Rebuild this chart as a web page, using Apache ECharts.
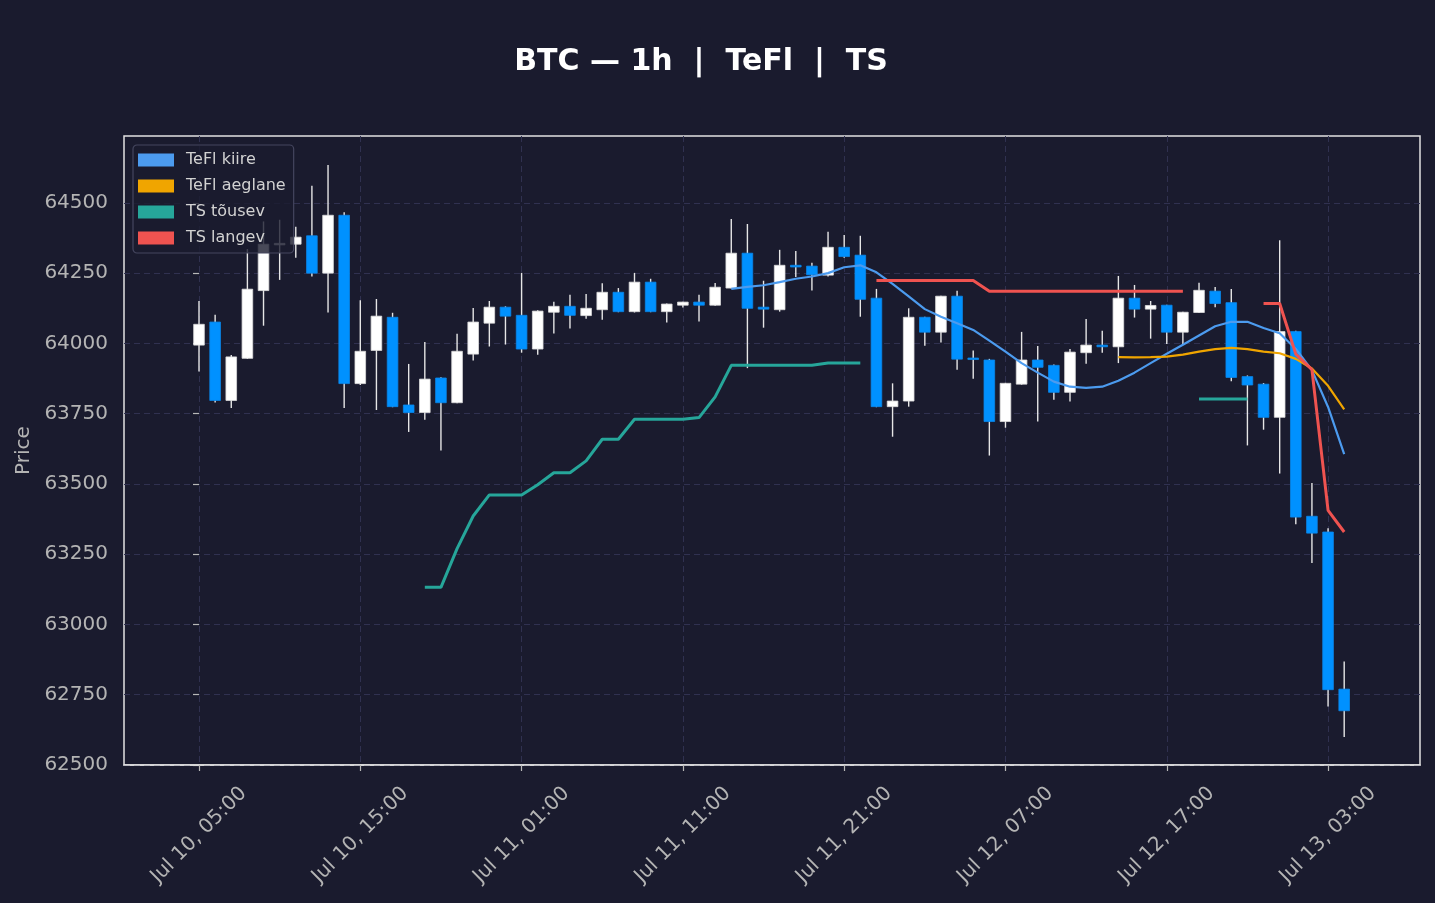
<!DOCTYPE html>
<html>
<head>
<meta charset="utf-8">
<title>BTC 1h TeFl TS</title>
<script src="https://cdn.jsdelivr.net/npm/echarts@6/dist/echarts.min.js"></script>
<style>
html, body { margin: 0; padding: 0; background: #1a1b2e; }
#chart { width: 1435px; height: 903px; }
</style>
</head>
<body>
<div id="chart"></div>
<script>
// hourly candles, index 0 = Jul 10 05:00
const opens  = [63994,64076,63797,63947,64188,64352,64353,64383,64250,64456,63857,63975,64093,63781,63754,63877,63789,63962,64072,64129,
                64100,63980,64111,64132,64099,64120,64182,64113,64218,64113,64136,64147,64136,64197,64321,64129,64120,64278,64275,64243,
                64342,64314,64161,63775,63795,64093,64040,64168,63948,63941,63722,63855,63941,63922,63826,63967,63994,63988,64161,64122,
                64136,64040,64110,64186,64145,63882,63855,63737,64042,63385,63329,62770];
const closes = [64068,63797,63952,64193,64353,64356,64378,64250,64456,63857,63972,64097,63775,63754,63873,63789,63972,64076,64129,64097,
                63980,64115,64132,64100,64125,64182,64113,64218,64113,64140,64147,64136,64200,64321,64125,64122,64278,64272,64244,64342,
                64309,64157,63775,63795,64093,64040,64168,63944,63944,63722,63858,63941,63915,63826,63969,63994,63988,64161,64122,64135,
                64040,64111,64189,64142,63879,63852,63737,64042,63382,63325,62768,62693];
const highs  = [64151,64102,63959,64336,64434,64440,64415,64561,64635,64467,64154,64158,64109,63927,64005,63880,64034,64126,64151,64132,
                64251,64118,64148,64173,64176,64214,64197,64251,64230,64142,64148,64173,64215,64443,64425,64223,64333,64329,64287,64397,
                64386,64383,64194,63858,64125,64095,64170,64187,63975,63945,63860,64041,63991,63925,63980,64087,64045,64240,64208,64151,
                64138,64113,64216,64201,64194,63886,63859,64367,64045,63503,63342,62868];
const lows   = [63900,63790,63770,63945,64063,64226,64305,64238,64110,63770,63852,63763,63773,63685,63728,63619,63787,63939,63989,63996,
                63967,63960,64035,64053,64088,64084,64111,64110,64111,64074,64128,64078,64134,64195,63912,64056,64113,64236,64188,64238,
                64305,64095,63773,63668,63775,63992,64003,63906,63874,63601,63700,63853,63722,63800,63793,63928,63967,63930,64092,64017,
                63998,63998,64108,64129,63865,63637,63693,63537,63357,63219,62708,62600];

// indicator lines (null = not drawn)
const tefl_kiire = [null,null,null,null,null,null,null,null,null,null,null,null,null,null,null,null,null,null,null,null,
                    null,null,null,null,null,null,null,null,null,null,null,null,null,64194,64201,64207,64218,64230,64238,64250,
                    64271,64278,64253,64212,64167,64122,64095,64072,64048,64010,63971,63930,63896,63864,63846,63842,63846,63867,63896,63930,
                    63963,63995,64028,64061,64077,64077,64055,64036,63980,63905,63774,63606];
const tefl_aeglane = [null,null,null,null,null,null,null,null,null,null,null,null,null,null,null,null,null,null,null,null,
                      null,null,null,null,null,null,null,null,null,null,null,null,null,null,null,null,null,null,null,null,
                      null,null,null,null,null,null,null,null,null,null,null,null,null,null,null,null,null,63951,63950,63951,
                      63953,63960,63971,63980,63984,63980,63971,63965,63945,63911,63849,63765];
const ts_tousev = [null,null,null,null,null,null,null,null,null,null,null,null,null,null,63132,63132,63270,63386,63461,63461,
                   63461,63497,63540,63540,63582,63659,63659,63730,63730,63730,63730,63736,63810,63922,63922,63922,63922,63922,63922,63930,
                   63930,63930,null,null,null,null,null,null,null,null,null,null,null,null,null,null,null,null,null,null,
                   null,null,63802,63802,63802,63802,null,null,null,null,null,null];
const ts_langev = [null,null,null,null,null,null,null,null,null,null,null,null,null,null,null,null,null,null,null,null,
                   null,null,null,null,null,null,null,null,null,null,null,null,null,null,null,null,null,null,null,null,
                   null,null,64224,64224,64224,64224,64224,64224,64224,64186,64186,64186,64186,64186,64186,64186,64186,64186,64186,64186,
                   64186,64186,null,null,null,null,64142,64142,63962,63907,63406,63329];

const xTickPos = [0, 10, 20, 30, 40, 50, 60, 70];
const xTickLabels = ['Jul 10, 05:00', 'Jul 10, 15:00', 'Jul 11, 01:00', 'Jul 11, 11:00',
                     'Jul 11, 21:00', 'Jul 12, 07:00', 'Jul 12, 17:00', 'Jul 13, 03:00'];
const yTicks = [62500, 62750, 63000, 63250, 63500, 63750, 64000, 64250, 64500];

const FONT = 'DejaVu Sans';
const FRAME = { color: '#e2e2e2', width: 1.5 };
const GRID_LINE = { color: '#303150', type: [6, 4], width: 1 };

let candles = opens.map((o, i) => [i, o, closes[i], lows[i], highs[i]]);
let pairs = arr => arr.map((v, i) => [i, v]);

function renderCandle(params, api) {
  let x = api.value(0);
  let o = api.value(1), c = api.value(2), l = api.value(3), h = api.value(4);
  let pH = api.coord([x, h]), pL = api.coord([x, l]);
  let pO = api.coord([x, o]), pC = api.coord([x, c]);
  let w = api.size([0.66, 0])[0];
  let up = c >= o;
  let top = Math.min(pO[1], pC[1]);
  let hh = Math.max(Math.abs(pO[1] - pC[1]), 1.5);
  return {
    type: 'group',
    children: [
      { type: 'line', shape: { x1: pH[0], y1: pH[1], x2: pL[0], y2: pL[1] },
        style: { stroke: '#e6e6e6', lineWidth: 1.4 } },
      { type: 'rect', shape: { x: pO[0] - w / 2, y: top, width: w, height: hh },
        style: { fill: up ? '#ffffff' : '#0091ff', stroke: up ? '#dcdcdc' : '#0a86ea', lineWidth: 0.8 } }
    ]
  };
}

function lineSeries(name, data, color, width) {
  return {
    name: name,
    type: 'line',
    data: pairs(data),
    color: color,
    showSymbol: false,
    symbol: 'none',
    connectNulls: false,
    lineStyle: { color: color, width: width },
    z: 5
  };
}

let chart = echarts.init(document.getElementById('chart'));
let option = {
  backgroundColor: '#1a1b2e',
  animation: false,
  title: {
    text: 'BTC — 1h  |  TeFl  |  TS',
    left: 696,
    textAlign: 'center',
    top: 42,
    textStyle: { color: '#ffffff', fontSize: 30, fontWeight: 'bold', fontFamily: FONT }
  },
  legend: {
    orient: 'vertical',
    left: 133,
    top: 145,
    padding: [7, 8, 7, 5],
    itemWidth: 36,
    itemHeight: 13,
    itemGap: 10,
    icon: 'rect',
    backgroundColor: 'rgba(26,27,46,0.8)',
    borderColor: '#45465f',
    borderWidth: 1.2,
    borderRadius: 4,
    itemStyle: { borderWidth: 0 },
    textStyle: { color: '#d2d2d2', fontSize: 16, fontFamily: FONT, lineHeight: 16, padding: [0, 0, 0, 7] },
    data: ['TeFl kiire', 'TeFl aeglane', 'TS tõusev', 'TS langev']
  },
  grid: {
    left: 124, right: 15, top: 136, bottom: 138,
    show: true, borderColor: FRAME.color, borderWidth: FRAME.width
  },
  xAxis: {
    type: 'value',
    min: -4.65,
    max: 75.7,
    z: 1,
    axisLine: { show: true, lineStyle: FRAME },
    axisTick: { show: true, length: 6, customValues: xTickPos, lineStyle: { color: '#b8b8b8', width: 1.2 } },
    axisLabel: {
      customValues: xTickPos,
      formatter: v => xTickLabels[Math.round(v / 10)],
      rotate: 45, align: 'center', verticalAlign: 'middle', margin: 70,
      color: '#b4b4b4', fontSize: 20, fontFamily: FONT
    },
    splitLine: { show: true, lineStyle: GRID_LINE }
  },
  yAxis: {
    type: 'value',
    min: 62500,
    max: 64738,
    axisLine: { show: false },
    axisTick: { show: true, length: 6, customValues: yTicks, lineStyle: { color: '#b8b8b8', width: 1.2 } },
    axisLabel: {
      customValues: yTicks,
      formatter: v => String(v),
      color: '#b4b4b4', fontSize: 20, fontFamily: FONT, margin: 16
    },
    splitLine: { show: true, lineStyle: GRID_LINE },
    name: 'Price',
    nameLocation: 'middle',
    nameGap: 81,
    nameTextStyle: { color: '#b4b4b4', fontSize: 20, fontFamily: FONT }
  },
  series: [
    {
      name: 'BTC',
      type: 'custom',
      renderItem: renderCandle,
      data: candles,
      encode: { x: 0, y: [1, 2, 3, 4] },
      clip: true,
      z: 3
    },
    lineSeries('TeFl kiire', tefl_kiire, '#4c9bef', 2.2),
    lineSeries('TeFl aeglane', tefl_aeglane, '#f0a500', 2.2),
    lineSeries('TS tõusev', ts_tousev, '#26a69a', 3),
    lineSeries('TS langev', ts_langev, '#ef5350', 3)
  ]
};
chart.setOption(option);
</script>
</body>
</html>
